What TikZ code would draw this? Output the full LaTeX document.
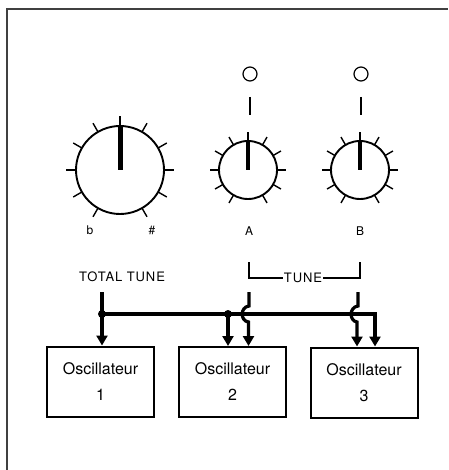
\documentclass[tikz,border=0pt]{standalone}
\usepackage{fontspec}
\setmainfont{TeX Gyre Heros}
\newfontfamily\capfont[LetterSpace=7]{TeX Gyre Heros}
\usetikzlibrary{arrows.meta}
\begin{document}
\begin{tikzpicture}[x=1pt,y=-1pt,
  knobline/.style={line width=1.9pt},
  tickline/.style={line width=1.4pt},
  wire/.style={line width=3.2pt},
  arr/.style={wire,-{Triangle[length=10pt,width=11pt]}},
  oscbox/.style={draw,line width=2pt,minimum width=107pt,minimum height=70pt,
    align=center,font=\fontsize{16}{26}\selectfont,inner sep=0pt},
  lbl/.style={font=\capfont\fontsize{12}{14}\selectfont,inner sep=1pt},
  captxt/.style={font=\capfont\fontsize{13}{15}\selectfont,inner sep=1pt}]
\useasboundingbox (0,0) rectangle (448,470);
% frame
\draw[line width=1.5pt,black!75] (7,470) -- (7,9) -- (448,9);

% big knob
\node[circle,draw,knobline,minimum size=88pt,inner sep=0pt] (K) at (120,170) {};
\foreach \a in {-240,-210,...,60}
  \draw[tickline] (K.center) ++(\a:44) -- ++(\a:10);
\draw[line width=5pt] (K.center) -- (K.north);

% small knobs
\node[circle,draw,knobline,minimum size=58pt,inner sep=0pt] (KA) at (248,170) {};
\node[circle,draw,knobline,minimum size=58pt,inner sep=0pt] (KB) at (360,170) {};
\foreach \k in {KA,KB}{
  \foreach \a in {-240,-210,...,60}
    \draw[tickline] (\k.center) ++(\a:29) -- ++(\a:9);
  \draw[line width=4.2pt] (\k.center) -- (\k.north);
}

% indicator lamps
\node[circle,draw,line width=1.2pt,minimum size=14pt,inner sep=0pt] (LA) at (250,74) {};
\node[circle,draw,line width=1.2pt,minimum size=14pt,inner sep=0pt] (LB) at (361,74) {};
\draw[tickline] (250,97) -- (250,115);
\draw[tickline] (361,97) -- (361,115);

% labels
\node[lbl] (flat) at (90,230) {b};
\node[lbl] (sharp) at (152,230) {\#};
\node[lbl] (la) at (249,231) {A};
\node[lbl] (lb) at (360,231) {B};
\node[captxt] (tt) at (122,277) {TOTAL TUNE};
\node[captxt] (tune) at (303,278) {TUNE};
\draw[tickline] (249,262) -- (249,278) -- (tune.west);
\draw[tickline] (tune.east) -- (360,278) -- (360,262);

% oscillators
\node[oscbox] (o1) at (100.5,381.5) {Oscillateur\\1};
\node[oscbox] (o2) at (232.5,382) {Oscillateur\\2};
\node[oscbox] (o3) at (364,382.5) {Oscillateur\\3};

% wiring
\coordinate (ttw) at (102,292);
\coordinate (j1) at (102,314);
\coordinate (j2) at (228,314);
\coordinate (cr) at (375,314);
\coordinate (wa) at (249,292);
\coordinate (wb) at (358,292);
\draw[arr] (ttw) -- (ttw |- o1.north);
\draw[arr] (j1) -- (cr) -- (cr |- o3.north);
\draw[arr] (j2) -- (j2 |- o2.north);
\draw[arr] (wa) -- (249,306) .. controls (240,307) and (240,321) .. (248.5,322) -- (248.5,0 |- o2.north);
\draw[arr] (wb) -- (358,306) .. controls (349,307) and (349,321) .. (357,322) -- (357,0 |- o3.north);
\fill (j1) circle (4pt);
\fill (j2) circle (4pt);
\end{tikzpicture}
\end{document}
